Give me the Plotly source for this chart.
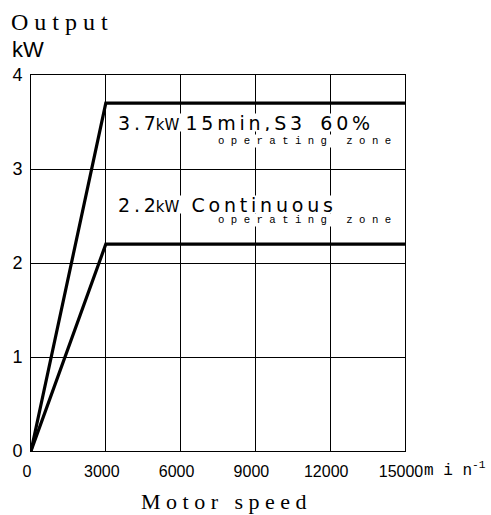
import plotly.graph_objects as go

# Output-power limits of the spindle motor
speed_rpm = [0, 3000, 15000]
s3_output_kw = [0, 3.7, 3.7]
cont_output_kw = [0, 2.2, 2.2]

x_ticks = [0, 3000, 6000, 9000, 12000, 15000]
x_tick_text = ["0", "3000", "6000", "9000", "12000", "15000"]
y_ticks = [0, 1, 2, 3, 4]
y_tick_text = ["0", "1", "2", "3", "4"]

mono = "Liberation Mono"
sans = "Liberation Sans"
serif = "Liberation Serif"
wide = "DejaVu Sans"
THIN = "\u2009"
NBSP = "\u00a0"


def spaced(s):
    """Open up the letter pitch with thin spaces (drafting-style lettering)."""
    return THIN.join(s)


fig = go.Figure()
fig.add_trace(go.Scatter(x=speed_rpm, y=s3_output_kw, mode="lines",
                         line=dict(color="black", width=3.2), showlegend=False,
                         hoverinfo="skip"))
fig.add_trace(go.Scatter(x=speed_rpm, y=cont_output_kw, mode="lines",
                         line=dict(color="black", width=3.2), showlegend=False,
                         hoverinfo="skip"))

axis_common = dict(showgrid=True, gridcolor="black", gridwidth=1,
                   showline=True, linecolor="black", linewidth=1, mirror=True,
                   zeroline=False, ticks="")

fig.update_xaxes(range=[0, 15000], tickvals=x_ticks, ticktext=x_tick_text,
                 tickfont=dict(family=sans, size=16, color="black"),
                 ticklabelstandoff=6, ticklabelshift=-4, **axis_common)
fig.update_yaxes(range=[0, 4], tickvals=y_ticks, ticktext=y_tick_text,
                 tickfont=dict(family=sans, size=18, color="black"),
                 ticklabelstandoff=4, **axis_common)

kw_small = "<span style='font-size:15px'>kW</span>"


def zone_title(y, text):
    fig.add_annotation(x=3430, y=y, xref="x", yref="y", text=text, showarrow=False,
                       xanchor="left", yanchor="middle", bgcolor="white", borderpad=0,
                       height=17, font=dict(family=wide, size=19, color="black"))


def zone_note(y):
    note = "o p e r a t i n g" + " " + NBSP * 2 + "z o n e"
    fig.add_annotation(x=14480, y=y, xref="x", yref="y", text=note, showarrow=False,
                       xanchor="right", yanchor="middle", bgcolor="white", borderpad=0,
                       height=12, font=dict(family=mono, size=10.7, color="black"))


zone_title(3.49, spaced("3.7") + kw_small + NBSP + spaced("15min,S3")
           + NBSP * 3 + spaced("60%"))
zone_note(3.30)
zone_title(2.62, spaced("2.2") + kw_small + NBSP * 2 + spaced("Continuous"))
zone_note(2.46)

# Axis titles and unit
fig.add_annotation(xref="paper", yref="paper", x=-0.058, y=1.142, xanchor="left",
                   yanchor="middle", text="O u t p u t", showarrow=False,
                   font=dict(family=serif, size=24, color="black"))
fig.add_annotation(xref="paper", yref="paper", x=-0.056, y=1.069, xanchor="left",
                   yanchor="middle", text="kW", showarrow=False,
                   font=dict(family=sans, size=22, color="black"))
fig.add_annotation(xref="paper", yref="paper", x=1.045, y=-0.05, xanchor="left",
                   yanchor="middle", text="m i n<sup>-1</sup>", showarrow=False,
                   font=dict(family=mono, size=16, color="black"))
fig.add_annotation(xref="paper", yref="paper", x=0.516, y=-0.133, xanchor="center",
                   yanchor="middle", text="M o t o r" + NBSP * 2 + " s p e e d",
                   showarrow=False, font=dict(family=serif, size=22, color="black"))

fig.update_layout(width=491, height=515, margin=dict(l=28, r=86, t=75, b=64),
                  plot_bgcolor="white", paper_bgcolor="white")

fig.write_html("out.html")
